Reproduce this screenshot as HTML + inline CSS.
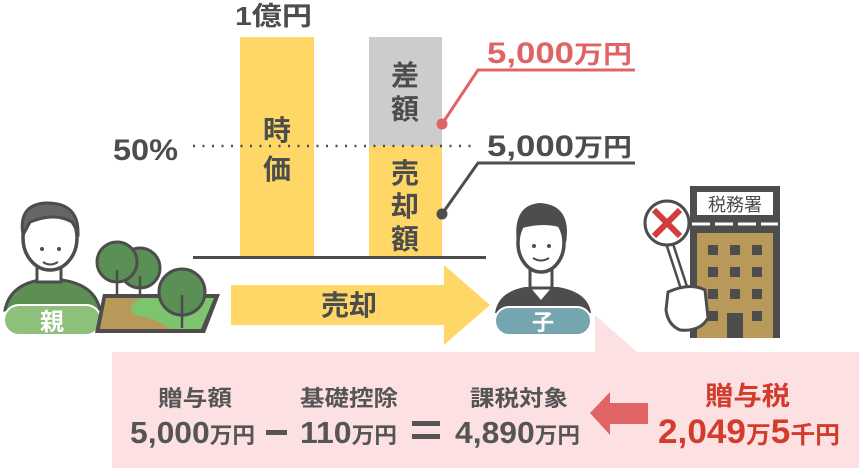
<!DOCTYPE html>
<html><head><meta charset="utf-8"><style>
html,body{margin:0;padding:0;background:#fff;}
svg{display:block;font-family:"Liberation Sans","Noto Sans CJK JP",sans-serif;font-weight:bold;}
</style></head><body>
<svg width="859" height="470" viewBox="0 0 859 470" xmlns="http://www.w3.org/2000/svg">
<polygon points="112,352 595,352 595,315 637,352 859,352 859,468 112,468" fill="#fde1e2"/>
<rect x="240" y="37" width="74" height="220" fill="#fed766"/>
<rect x="369" y="37" width="73" height="109" fill="#cccccc"/>
<rect x="369" y="146" width="73" height="111" fill="#fed766"/>
<line x1="193" y1="257.5" x2="486" y2="257.5" stroke="#4d4d4d" stroke-width="3"/>
<line x1="193" y1="146" x2="476" y2="146" stroke="#4d4d4d" stroke-width="2.5" stroke-dasharray="2 7.5"/>
<text x="235" y="25" font-size="26" fill="#4d4d4d" textLength="77" lengthAdjust="spacingAndGlyphs">1億円</text>
<text x="113" y="160" font-size="30" fill="#4d4d4d" textLength="65" lengthAdjust="spacingAndGlyphs">50%</text>
<text x="277" y="140" font-size="28" fill="#4d4d4d" text-anchor="middle">時</text>
<text x="277" y="179" font-size="28" fill="#4d4d4d" text-anchor="middle">価</text>
<text x="405" y="85" font-size="28" fill="#4d4d4d" text-anchor="middle">差</text>
<text x="405" y="119" font-size="28" fill="#4d4d4d" text-anchor="middle">額</text>
<text x="405" y="183" font-size="28" fill="#4d4d4d" text-anchor="middle">売</text>
<text x="405" y="216" font-size="28" fill="#4d4d4d" text-anchor="middle">却</text>
<text x="405" y="249" font-size="28" fill="#4d4d4d" text-anchor="middle">額</text>
<polyline points="442,124 478,70 635,70" fill="none" stroke="#e06466" stroke-width="3"/>
<circle cx="442" cy="124" r="5.5" fill="#e06466"/>
<polyline points="442,214 478,163 635,163" fill="none" stroke="#4d4d4d" stroke-width="3"/>
<circle cx="442" cy="214" r="5.5" fill="#4d4d4d"/>
<text x="487" y="63" font-size="30" fill="#e06466" textLength="145" lengthAdjust="spacingAndGlyphs">5,000<tspan font-size="25">万円</tspan></text>
<text x="487" y="156" font-size="30" fill="#4d4d4d" textLength="145" lengthAdjust="spacingAndGlyphs">5,000<tspan font-size="25">万円</tspan></text>
<polygon points="231,285 444,285 444,265 490,305 444,345 444,325 231,325" fill="#fed766"/>
<text x="349" y="315" font-size="28" fill="#4d4d4d" text-anchor="middle">売却</text>
<!-- parent -->
<path d="M5,310 Q10,285 40,280 L62,280 Q95,285 100,310 Z" fill="#5d8f52" stroke="#4d4d4d" stroke-width="3"/>
<rect x="37" y="258" width="24" height="24" fill="#fff" stroke="#4d4d4d" stroke-width="3"/>
<ellipse cx="50" cy="238" rx="27" ry="32" fill="#fff" stroke="#4d4d4d" stroke-width="3.5"/>
<path d="M23,235 Q18,205 45,203 Q78,202 78,232 L72,222 Q55,212 30,222 Z" fill="#666" stroke="#4d4d4d" stroke-width="3"/>
<circle cx="42" cy="249" r="2" fill="#4d4d4d"/><circle cx="59" cy="249" r="2" fill="#4d4d4d"/>
<path d="M43,262 Q50,267 58,262" fill="none" stroke="#4d4d4d" stroke-width="2"/>
<rect x="4" y="305" width="97" height="30" rx="15" fill="#8dc07a" stroke="#fff" stroke-width="2"/>
<text x="52" y="330" font-size="24" fill="#fff" text-anchor="middle">親</text>
<polygon points="103,294 220,294 205,333 95,333" fill="#4d4d4d"/>
<polygon points="106,298 214,298 201,329 100,329" fill="#7ec46f"/>
<path d="M100,329 L106,298 L140,298 Q125,308 135,315 Q160,320 170,329 Z" fill="#b8995a"/>
<g stroke="#4d4d4d" stroke-width="3" fill="#5a8f55">
<circle cx="140" cy="268" r="20"/><circle cx="117" cy="262" r="20"/><circle cx="182" cy="292" r="23"/>
</g>
<g stroke="#4d4d4d" stroke-width="2.5"><line x1="117" y1="270" x2="117" y2="298"/><line x1="140" y1="276" x2="140" y2="298"/><line x1="182" y1="295" x2="182" y2="328"/></g>
<!-- son -->
<path d="M495,313 Q498,292 525,287 L558,287 Q588,292 591,313 Z" fill="#4d4d4d"/>
<polygon points="530,287 541,300 552,287" fill="#fff"/>
<rect x="530" y="268" width="22" height="20" fill="#fff" stroke="#4d4d4d" stroke-width="3"/>
<ellipse cx="541" cy="243" rx="23" ry="29" fill="#fff" stroke="#4d4d4d" stroke-width="3.5"/>
<path d="M517,243 Q512,205 540,203 Q572,205 566,243 L562,228 Q545,222 522,228 Z" fill="#4d4d4d"/>
<circle cx="534" cy="246" r="2" fill="#4d4d4d"/><circle cx="549" cy="246" r="2" fill="#4d4d4d"/>
<path d="M533,258 Q541,263 549,258" fill="none" stroke="#4d4d4d" stroke-width="2"/>
<rect x="495" y="307" width="96" height="28" rx="14" fill="#75a6b0" stroke="#fff" stroke-width="2"/>
<text x="543" y="330" font-size="22" fill="#fff" text-anchor="middle">子</text>
<!-- tax office -->
<rect x="690" y="186" width="90" height="152" fill="#4d4d4d"/>
<rect x="697" y="192" width="76" height="23" fill="#fff"/>
<text x="735" y="211" font-size="18" font-weight="normal" fill="#4d4d4d" text-anchor="middle">税務署</text>
<line x1="692" y1="224" x2="778" y2="224" stroke="#fff" stroke-width="3" stroke-dasharray="18 5"/>
<rect x="697" y="233" width="76" height="105" fill="#b8995a"/>
<g fill="#4d4d4d">
<rect x="708" y="245" width="10" height="10"/><rect x="730" y="245" width="10" height="10"/><rect x="752" y="245" width="10" height="10"/>
<rect x="708" y="267" width="10" height="10"/><rect x="730" y="267" width="10" height="10"/><rect x="752" y="267" width="10" height="10"/>
<rect x="708" y="289" width="10" height="10"/><rect x="730" y="289" width="10" height="10"/><rect x="752" y="289" width="10" height="10"/>
<rect x="708" y="311" width="10" height="10"/><rect x="752" y="311" width="10" height="10"/>
<rect x="727" y="313" width="16" height="25"/>
</g>
<line x1="669" y1="242" x2="688" y2="300" stroke="#4d4d4d" stroke-width="9"/>
<line x1="669" y1="242" x2="688" y2="300" stroke="#fff" stroke-width="4"/>
<circle cx="667" cy="223" r="22" fill="#fff" stroke="#4d4d4d" stroke-width="3"/>
<g stroke="#d13c3c" stroke-width="6"><line x1="654" y1="210" x2="680" y2="236"/><line x1="680" y1="210" x2="654" y2="236"/></g>
<path d="M668,292 Q690,282 705,290 L708,318 Q700,332 680,330 Q668,325 666,310 Z" fill="#fff" stroke="#4d4d4d" stroke-width="3"/>
<!-- formula -->
<g fill="#555">
<text x="158" y="406" font-size="22" textLength="74" lengthAdjust="spacingAndGlyphs">贈与額</text>
<text x="300" y="406" font-size="22" textLength="98" lengthAdjust="spacingAndGlyphs">基礎控除</text>
<text x="470" y="406" font-size="22" textLength="98" lengthAdjust="spacingAndGlyphs">課税対象</text>
<text x="130" y="443" font-size="31" textLength="125" lengthAdjust="spacingAndGlyphs">5,000<tspan font-size="22">万円</tspan></text>
<text x="300" y="443" font-size="31" textLength="97" lengthAdjust="spacingAndGlyphs">110<tspan font-size="22">万円</tspan></text>
<text x="455" y="443" font-size="31" textLength="125" lengthAdjust="spacingAndGlyphs">4,890<tspan font-size="22">万円</tspan></text>
</g>
<rect x="266" y="430" width="21" height="5" fill="#555"/>
<rect x="412" y="421" width="28" height="5" fill="#555"/>
<rect x="412" y="434" width="28" height="5" fill="#555"/>
<polygon points="590,413 610,392 610,403 648,403 648,424 610,424 610,435" fill="#e06466"/>
<text x="705" y="405" font-size="26" fill="#d13c2c" textLength="85" lengthAdjust="spacingAndGlyphs">贈与税</text>
<text x="658" y="443" font-size="34" fill="#d13c2c" textLength="182" lengthAdjust="spacingAndGlyphs">2,049<tspan font-size="24">万</tspan>5<tspan font-size="24">千円</tspan></text>
</svg>
</body></html>
